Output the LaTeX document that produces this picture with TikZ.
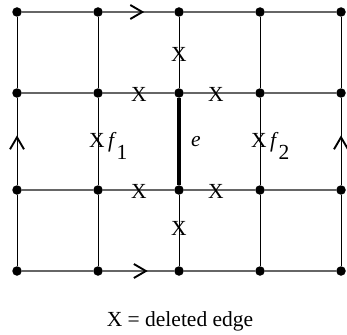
\documentclass[tikz,border=0pt]{standalone}
\usepackage{fontspec}
\setmainfont{Liberation Serif}
\usetikzlibrary{arrows.meta,decorations.markings}

\begin{document}
\begin{tikzpicture}[
    x=1pt, y=-1pt,
    vtx/.style={circle, fill=black, inner sep=0pt, minimum size=9.5pt},
    hedge/.style={draw=black!60, line width=1.3pt},
    vedge/.style={draw=black, line width=1pt},
    cut/.style={inner sep=0pt, font=\fontsize{21.5}{24}\selectfont},
    barb/.style={postaction=decorate, decoration={markings,
        mark=at position #1 with {\arrow{Straight Barb[length=12pt,width=14pt,line width=1.9pt,color=black]}}}}
]
\useasboundingbox (0,0) rectangle (347,334);
% grid vertices
\foreach \i/\x in {0/17,1/98,2/179,3/260,4/341}
  \foreach \j/\y in {0/12,1/93,2/190,3/271}
    \node[vtx] (v\i\j) at (\x,\y) {};
% horizontal edges
\foreach \i/\k in {0/1,1/2,2/3,3/4}
  \foreach \j in {0,...,3}
    \draw[hedge] (v\i\j) -- (v\k\j);
% vertical edges
\foreach \i in {0,1,3,4}
  \foreach \j/\k in {0/1,1/2,2/3}
    \draw[vedge] (v\i\j) -- (v\i\k);
\draw[vedge] (v20) -- (v21);
\draw[vedge] (v22) -- (v23);
\draw[line width=4.8pt] (v21) -- (v22);
% identifications
\draw[hedge, barb=0.58] (v10) -- (v20);
\draw[hedge, barb=0.63] (v13) -- (v23);
\draw[vedge, barb=0.57] (v02) -- (v01);
\draw[vedge, barb=0.57] (v42) -- (v41);
% deleted edges
\node[cut] (x1) at (179,54) {X};
\node[cut] (x2) at (139,94) {X};
\node[cut] (x3) at (216,94) {X};
\node[cut] (x4) at (139,191) {X};
\node[cut] (x5) at (216,191) {X};
\node[cut] (x6) at (179,228) {X};
\node[cut] (x7) at (97,140) {X};
\node[cut] (x8) at (259,140) {X};
% labels
\node[cut, anchor=base] (e) at (196,146) {\textit{e}};
\node[cut, anchor=base west] (f1) at (108,147) {\textit{f}\raisebox{-0.6em}{1}};
\node[cut, anchor=base west] (f2) at (270,147) {\textit{f}\raisebox{-0.6em}{2}};
\node[cut] (key) at (180,321) {X = deleted edge};
\end{tikzpicture}
\end{document}
